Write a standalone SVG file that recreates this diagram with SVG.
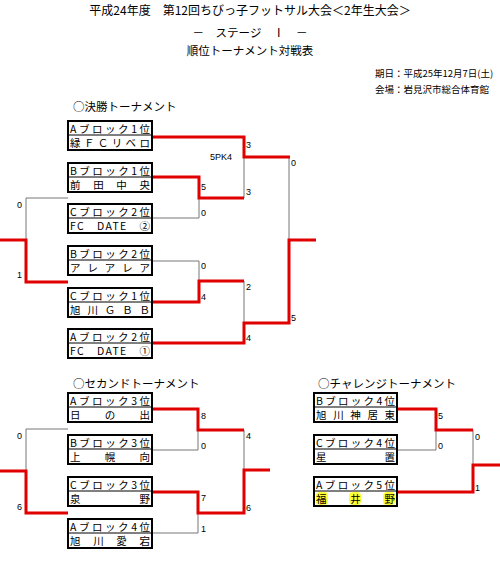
<svg xmlns="http://www.w3.org/2000/svg" width="500" height="571" viewBox="0 0 500 571">
<style>
text{font-family:"Noto Sans CJK JP","Liberation Sans",sans-serif;fill:#000}
.t1{font-size:12px}
.t2{font-size:11.5px}
.t3{font-size:9.5px}
.bx{font-size:10.5px}
.sc{font-family:"Liberation Sans",sans-serif;font-size:9px}
.box{fill:#fff;stroke:#000;stroke-width:2}
.div{stroke:#000;stroke-width:1}
.g{fill:none;stroke:#777;stroke-width:1}
.r{fill:none;stroke:#e00000;stroke-width:3}
.hl{fill:#ffff33}
</style>
<rect width="500" height="571" fill="#fff"/>
<g id="titles">
<text class="t1" x="250" y="15" text-anchor="middle">平成24年度　第12回ちびっ子フットサル大会＜2年生大会＞</text>
<text class="t2" x="250" y="37" text-anchor="middle">－　ステージ　Ⅰ　－</text>
<text class="t2" x="250" y="55" text-anchor="middle">順位トーナメント対戦表</text>
<text class="t3" x="375" y="77">期日：平成25年12月7日(土)</text>
<text class="t3" x="375" y="93">会場：岩見沢市総合体育館</text>
<text class="t2" x="73" y="111">○決勝トーナメント</text>
<text class="t2" x="73" y="388">○セカンドトーナメント</text>
<text class="t2" x="318" y="388">○チャレンジトーナメント</text>
</g>
<g id="connectors">
<polyline class="g" points="244,157 244,198"/>
<polyline class="g" points="152,218 199,218 199,198"/>
<polyline class="g" points="152,261 199,261 199,281"/>
<polyline class="g" points="244,281 244,323"/>
<polyline class="g" points="289,157 289,240"/>
<polyline class="g" points="68,198 26,198 26,240"/>
<polyline class="r" points="152,137 244,137 244,157 290,157"/>
<polyline class="r" points="152,177 199,177 199,198 244,198"/>
<polyline class="r" points="152,302 199,302 199,281 244,281"/>
<polyline class="r" points="152,343 244,343 244,323 289,323 289,240 316,240"/>
<polyline class="r" points="0,240 26,240 26,282 68,282"/>
<polyline class="g" points="152,450 198,450 198,430"/>
<polyline class="g" points="152,533 198,533 198,513"/>
<polyline class="g" points="244,430 244,470"/>
<polyline class="g" points="68,429 26,429 26,471"/>
<polyline class="r" points="152,409 198,409 198,430 244,430"/>
<polyline class="r" points="152,492 198,492 198,513 244,513 244,470 270,470"/>
<polyline class="r" points="0,471 26,471 26,513 68,513"/>
<polyline class="g" points="397,450 436,450 436,430"/>
<polyline class="g" points="473,430 473,465"/>
<polyline class="r" points="397,409 436,409 436,430 473,430"/>
<polyline class="r" points="397,492 473,492 473,465 500,465"/>
</g>
<g id="scores">
<text class="sc" x="246" y="148">3</text>
<text class="sc" x="210" y="160">5PK4</text>
<text class="sc" x="246" y="195">3</text>
<text class="sc" x="201" y="190">5</text>
<text class="sc" x="201" y="216">0</text>
<text class="sc" x="291" y="166">0</text>
<text class="sc" x="201" y="269">0</text>
<text class="sc" x="201" y="300">4</text>
<text class="sc" x="246" y="290">2</text>
<text class="sc" x="246" y="341">4</text>
<text class="sc" x="291" y="321">5</text>
<text class="sc" x="17" y="208">0</text>
<text class="sc" x="17" y="278">1</text>
<text class="sc" x="201" y="419">8</text>
<text class="sc" x="201" y="449">0</text>
<text class="sc" x="246" y="439">4</text>
<text class="sc" x="201" y="501">7</text>
<text class="sc" x="201" y="532">1</text>
<text class="sc" x="246" y="511">6</text>
<text class="sc" x="17" y="439">0</text>
<text class="sc" x="17" y="510">6</text>
<text class="sc" x="438" y="419">5</text>
<text class="sc" x="438" y="449">0</text>
<text class="sc" x="475" y="440">0</text>
<text class="sc" x="475" y="491">1</text>
</g>
<g id="f1"><rect class="box" x="68" y="121" width="84" height="29"/><line class="div" x1="68" y1="135" x2="152" y2="135"/>
<text class="bx" x="70" y="133" textLength="80" lengthAdjust="spacing">Aブロック1位</text><text class="bx" x="70" y="147" textLength="80" lengthAdjust="spacing">緑ＦＣリベロ</text></g>
<g id="f2"><rect class="box" x="68" y="163" width="84" height="29"/><line class="div" x1="68" y1="177" x2="152" y2="177"/>
<text class="bx" x="70" y="175" textLength="80" lengthAdjust="spacing">Bブロック1位</text><text class="bx" x="70" y="189" textLength="80" lengthAdjust="spacing">前田中央</text></g>
<g id="f3"><rect class="box" x="68" y="204" width="84" height="29"/><line class="div" x1="68" y1="218" x2="152" y2="218"/>
<text class="bx" x="70" y="216" textLength="80" lengthAdjust="spacing">Cブロック2位</text><text class="bx" x="70" y="230" textLength="80" lengthAdjust="spacing">FC　DATE　②</text></g>
<g id="f4"><rect class="box" x="68" y="246" width="84" height="29"/><line class="div" x1="68" y1="260" x2="152" y2="260"/>
<text class="bx" x="70" y="258" textLength="80" lengthAdjust="spacing">Bブロック2位</text><text class="bx" x="70" y="272" textLength="80" lengthAdjust="spacing">アレアレア</text></g>
<g id="f5"><rect class="box" x="68" y="288" width="84" height="29"/><line class="div" x1="68" y1="302" x2="152" y2="302"/>
<text class="bx" x="70" y="300" textLength="80" lengthAdjust="spacing">Cブロック1位</text><text class="bx" x="70" y="314" textLength="80" lengthAdjust="spacing">旭川ＧＢＢ</text></g>
<g id="f6"><rect class="box" x="68" y="329" width="84" height="29"/><line class="div" x1="68" y1="343" x2="152" y2="343"/>
<text class="bx" x="70" y="341" textLength="80" lengthAdjust="spacing">Aブロック2位</text><text class="bx" x="70" y="355" textLength="80" lengthAdjust="spacing">FC　DATE　①</text></g>
<g id="s1"><rect class="box" x="68" y="393" width="84" height="29"/><line class="div" x1="68" y1="407" x2="152" y2="407"/>
<text class="bx" x="70" y="405" textLength="80" lengthAdjust="spacing">Aブロック3位</text><text class="bx" x="70" y="419" textLength="80" lengthAdjust="spacing">日の出</text></g>
<g id="s2"><rect class="box" x="68" y="435" width="84" height="29"/><line class="div" x1="68" y1="449" x2="152" y2="449"/>
<text class="bx" x="70" y="447" textLength="80" lengthAdjust="spacing">Bブロック3位</text><text class="bx" x="70" y="461" textLength="80" lengthAdjust="spacing">上幌向</text></g>
<g id="s3"><rect class="box" x="68" y="477" width="84" height="29"/><line class="div" x1="68" y1="491" x2="152" y2="491"/>
<text class="bx" x="70" y="489" textLength="80" lengthAdjust="spacing">Cブロック3位</text><text class="bx" x="70" y="503" textLength="80" lengthAdjust="spacing">泉野</text></g>
<g id="s4"><rect class="box" x="68" y="519" width="84" height="29"/><line class="div" x1="68" y1="533" x2="152" y2="533"/>
<text class="bx" x="70" y="531" textLength="80" lengthAdjust="spacing">Aブロック4位</text><text class="bx" x="70" y="545" textLength="80" lengthAdjust="spacing">旭川愛宕</text></g>
<g id="c1"><rect class="box" x="314" y="393" width="83" height="29"/><line class="div" x1="314" y1="407" x2="397" y2="407"/>
<text class="bx" x="316" y="405" textLength="79" lengthAdjust="spacing">Bブロック4位</text><text class="bx" x="316" y="419" textLength="79" lengthAdjust="spacing">旭川神居東</text></g>
<g id="c2"><rect class="box" x="314" y="435" width="83" height="29"/><line class="div" x1="314" y1="449" x2="397" y2="449"/>
<text class="bx" x="316" y="447" textLength="79" lengthAdjust="spacing">Cブロック4位</text><text class="bx" x="316" y="461" textLength="79" lengthAdjust="spacing">星置</text></g>
<g id="c3"><rect class="box" x="314" y="477" width="83" height="29"/><line class="div" x1="314" y1="491" x2="397" y2="491"/>
<rect class="hl" x="316" y="492" width="12" height="13" rx="4"/><rect class="hl" x="349" y="492" width="12" height="13" rx="4"/><rect class="hl" x="383" y="492" width="12" height="13" rx="4"/>
<text class="bx" x="316" y="489" textLength="79" lengthAdjust="spacing">Aブロック5位</text><text class="bx" x="316" y="503" textLength="79" lengthAdjust="spacing">福井野</text></g>
</svg>
